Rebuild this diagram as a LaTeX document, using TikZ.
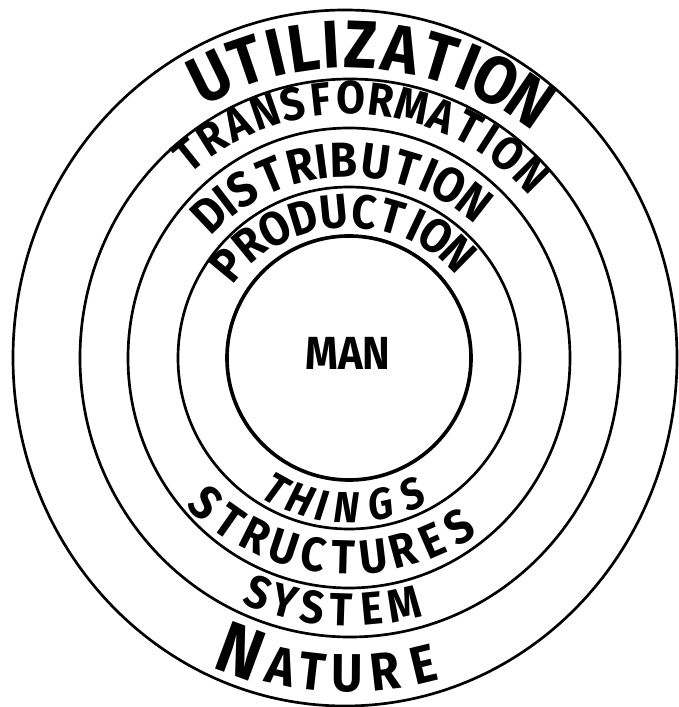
\documentclass[tikz,border=0pt]{standalone}
\usepackage{fontspec}
\newfontfamily\handfont{Fira Sans}[FakeStretch=0.9]

\tikzset{
  ring/.style={line width=1.9pt},
  letter/.style={inner sep=0pt, anchor=base,
    font=\handfont\bfseries\fontsize{#1}{#1}\selectfont},
}

% letters round the top of a ring, read left to right
\newcommand\overword[5]{%
  \foreach \ch/\ang [count=\k] in {#5}
    \node[#4, rotate=\ang-90] (#1-\k) at (\ang:#2 and #3) {\ch};}
% letters round the bottom of a ring, read left to right
\newcommand\underword[5]{%
  \foreach \ch/\ang [count=\k] in {#5}
    \node[#4, rotate=\ang+90] (#1-\k) at (\ang:#2 and #3) {\ch};}

\begin{document}
\begin{tikzpicture}[x=0.025cm, y=0.025cm]
  \useasboundingbox (-349,-349) rectangle (329,358);
  % rings, outside in
  \draw[ring] (-4,0) ellipse [x radius=332, y radius=348];
  \draw[ring] (1,0) ellipse [x radius=270, y radius=279];
  \draw[ring] (0,0) ellipse [x radius=221, y radius=230];
  \draw[ring] (0,0) circle [radius=171];
  \draw[ring, line width=2.6pt] (0,0) circle [radius=122];
  \node[letter=33pt, anchor=center] (man) at (-1,5) {MAN};
  % upper words
  \overword{util}{294}{290}{letter=48pt}
    {U/116, T/108.8, I/103.3, L/98.3, I/93.2, Z/87.8, A/80.5, T/73.3, I/67.9, O/62.4, N/55.2}
  \overword{trans}{241}{244}{letter=33pt}
    {T/128.8, R/122.2, A/115.6, N/109, S/102.6, F/96.4, O/89.6, R/82.8, M/75.8, A/68.8, T/62.2, I/57.2, O/51.8, N/44.8}
  \overword{distr}{187}{181}{letter=35pt}
    {D/133.4, I/127.4, S/121.4, T/112.6, R/103.8, I/97.6, B/91.4, U/82.4, T/73.4, I/67, O/60.6, N/51.9}
  \overword{prod}{140}{130}{letter=34pt}
    {P/140.4, R/129.4, O/118.2, D/107, U/95.6, C/84.4, T/73.8, I/64.6, O/56, N/45.5}
  % lower words
  \underword{things}{165}{165}{letter=31pt, font=\handfont\bfseries\itshape\fontsize{31pt}{31pt}\selectfont}
    {T/241, H/251, I/259.5, N/269, G/282, S/295}
  \underword{struct}{224}{216}{letter=34pt}
    {S/226.5, T/234.9, R/243.3, U/251.7, C/260.1, T/268.4, U/276.8, R/285.2, E/293.6, S/302}
  \underword{system}{268}{268}{letter=33pt}
    {S/249, Y/255.2, S/261.6, T/268.2, E/275.3, M/282.6}
  \node[letter=52pt, rotate=249.7+90] (nature-0) at (249.7:338) {N};
  \underword{nature}{334}{334}{letter=38pt}
    {A/257.6, T/263.4, U/269.6, R/276.6, E/283.6}
\end{tikzpicture}
\end{document}
